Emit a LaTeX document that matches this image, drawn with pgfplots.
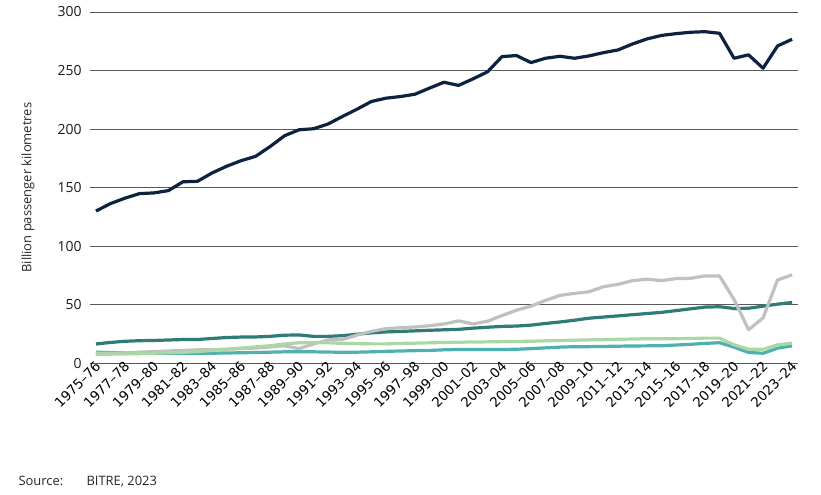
\documentclass[border=0pt]{standalone}
\usepackage{pgfplots}
\usepackage{pgfplotstable}
\pgfplotsset{compat=1.18}
\usepackage{fontspec}
\setmainfont{Open Sans}
\newfontfamily\tickfont[Ligatures=TeX]{DejaVu Sans}

\definecolor{navy}{HTML}{0D2240}
\definecolor{darkteal}{HTML}{2F7B78}
\definecolor{midteal}{HTML}{4DB1B1}
\definecolor{ltgreen}{HTML}{AAD8A4}
\definecolor{ltgrey}{HTML}{C0C0C0}

% year index 0 = 1975-76 ... 48 = 2023-24
\pgfplotstableread{
i  navy   dteal  grey   green  teal
0  130.0  16.5   8.5    7.7    9.5
1  136.4  17.8   8.5    7.8    9.2
2  141.0  18.8   9.0    8.0    9.0
3  144.9  19.3   9.5    8.2    8.8
4  145.5  19.5   10.0   8.6    8.6
5  147.5  19.9   10.5   9.0    8.6
6  155.0  20.3   11.0   9.4    8.6
7  155.4  20.3   11.5   10.0   8.6
8  162.5  21.2   11.5   11.0   8.6
9  168.2  22.0   12.0   12.0   8.8
10 173.0  22.4   12.5   13.0   9.0
11 176.7  22.5   13.0   14.0   9.2
12 185.0  23.0   14.0   15.0   9.5
13 194.3  24.0   15.0   16.5   9.8
14 199.4  24.2   12.5   17.5   9.8
15 200.3  23.0   16.5   17.8   9.8
16 204.3  23.0   20.0   17.5   9.6
17 210.8  23.6   20.3   17.0   9.4
18 217.0  24.8   24.1   16.8   9.5
19 223.6  26.0   27.3   16.6   9.8
20 226.4  26.8   29.6   16.6   10.2
21 227.8  27.2   30.4   17.0   10.5
22 229.8  27.7   31.0   17.2   10.8
23 235.0  28.2   32.1   17.5   11.0
24 240.0  28.6   33.6   17.8   11.5
25 237.3  29.0   36.2   18.0   11.8
26 242.9  30.0   33.6   18.2   11.8
27 248.9  30.8   35.9   18.3   11.8
28 261.9  31.5   40.8   18.5   11.8
29 262.8  31.8   45.3   18.7   12.0
30 256.8  32.6   48.8   18.8   12.5
31 260.5  34.0   53.7   19.2   13.2
32 262.2  35.3   58.0   19.5   13.8
33 260.5  36.8   59.7   19.7   14.2
34 262.5  38.5   61.1   20.0   14.2
35 265.3  39.5   65.4   20.2   14.4
36 267.6  40.5   67.4   20.5   14.6
37 272.7  41.5   70.6   20.7   14.8
38 277.0  42.5   71.8   21.0   14.9
39 280.0  43.5   70.6   21.0   15.0
40 281.5  45.0   72.3   21.0   15.6
41 282.7  46.5   72.6   21.2   16.2
42 283.2  48.0   74.6   21.5   17.0
43 281.8  48.3   74.6   21.5   17.6
44 260.5  46.8   54.5   15.8   13.8
45 263.4  47.0   28.7   12.0   9.2
46 252.0  48.8   38.7   12.0   8.6
47 271.0  50.5   71.2   15.8   12.9
48 276.7  52.0   75.5   17.2   14.9
}\bitre

\begin{document}
\begin{tikzpicture}
\useasboundingbox (0,0) rectangle (821bp,495bp);
\begin{axis}[
    at={(90bp,131.7bp)}, anchor=south west,
    scale only axis, width=708bp, height=351.3bp,
    xmin=-0.41, xmax=48.41,
    ymin=0, ymax=300,
    ytick={0,50,...,300},
    xtick={0,2,...,48},
    xticklabels={1975–76,1977–78,1979–80,1981–82,1983–84,1985–86,1987–88,1989–90,1991–92,1993–94,1995–96,1997–98,1999–00,2001–02,2003–04,2005–06,2007–08,2009–10,2011–12,2013–14,2015–16,2017–18,2019–20,2021–22,2023–24},
    axis x line*=bottom,
    axis y line*=left,
    y axis line style={draw=none},
    x axis line style={draw=black!65, line width=0.9bp},
    major tick length=0pt,
    ymajorgrids=true,
    grid style={draw=black!65, line width=0.9bp},
    /pgf/number format/assume math mode=true,
    ticklabel style={font=\fontsize{14}{16}\selectfont, text=black!90},
    yticklabel style={xshift=-5bp},
    xticklabel style={rotate=45, anchor=east, xshift=4.5bp, yshift=-2bp, font=\tickfont\fontsize{13.5}{15}\selectfont, text=black},
    ylabel={Billion passenger kilometres},
    ylabel style={at={(axis description cs:-0.0876,0.5)}, anchor=center, font=\fontsize{13}{15}\selectfont, text=black!85},
    every axis plot/.append style={line width=3.2bp, line join=round, mark=none},
]
\addplot[navy] table[x=i, y=navy] {\bitre};
\addplot[darkteal] table[x=i, y=dteal] {\bitre};
\addplot[midteal] table[x=i, y=teal] {\bitre};
\addplot[ltgrey] table[x=i, y=grey] {\bitre};
\addplot[ltgreen] table[x=i, y=green] {\bitre};
\end{axis}
\node[anchor=base west, font=\fontsize{13}{15}\selectfont, text=black!85] at (15bp,10bp) {Source:};
\node[anchor=base west, font=\fontsize{13}{15}\selectfont, text=black!85] at (83bp,10bp) {BITRE, 2023};
\end{tikzpicture}
\end{document}
